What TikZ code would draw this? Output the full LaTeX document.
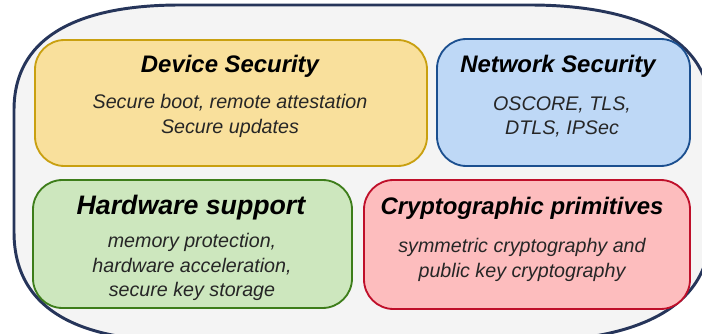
\documentclass[tikz,border=0pt]{standalone}
\usepackage{fontspec}
\setmainfont{Liberation Sans}
\usepackage{tikz}
\usetikzlibrary{positioning}

\definecolor{outerline}{HTML}{26355A}
\definecolor{outerfill}{HTML}{F4F4F4}
\definecolor{devline}{HTML}{C9A010}
\definecolor{devfill}{HTML}{F9E09C}
\definecolor{netline}{HTML}{1B4F8F}
\definecolor{netfill}{HTML}{BED8F6}
\definecolor{hwline}{HTML}{3D7D1A}
\definecolor{hwfill}{HTML}{CDE7BE}
\definecolor{cryline}{HTML}{BF0F2A}
\definecolor{cryfill}{HTML}{FDBDBE}

\tikzset{
  area/.style={draw, line width=1.3pt, rounded corners=21pt, inner sep=0pt},
  heading/.style={inner sep=0pt, font=\fontsize{17}{20}\selectfont\bfseries\itshape},
  detail/.style={inner sep=0pt, align=center, text=black!85,
    font=\fontsize{14}{17.3}\selectfont\itshape},
}

\begin{document}
\begin{tikzpicture}[x=0.025cm, y=-0.025cm]
\useasboundingbox (0,0) rectangle (702,334);
% outer frame
\begin{scope}
\clip (0,0) rectangle (702,334);
\draw[line width=2.1pt, draw=outerline, fill=outerfill]
  (14,110) .. controls (14,30) and (90,5) .. (180,5)
  -- (530,5) .. controls (620,5) and (710,30) .. (710,110)
  -- (710,232) .. controls (710,316) and (620,341) .. (530,341)
  -- (180,341) .. controls (90,341) and (14,316) .. (14,232) -- cycle;
\end{scope}

% boxes
\node[area, draw=devline, fill=devfill, minimum width=392*0.025cm, minimum height=126*0.025cm] (dev) at (231,103) {};
\node[area, draw=netline, fill=netfill, minimum width=253*0.025cm, minimum height=127*0.025cm] (net) at (563.5,102.5) {};
\node[area, draw=hwline, fill=hwfill, minimum width=319*0.025cm, minimum height=128*0.025cm] (hw) at (192.5,244) {};
\node[area, draw=cryline, fill=cryfill, minimum width=326*0.025cm, minimum height=129*0.025cm] (cry) at (527,244.5) {};

% texts
\node[heading] (devtitle) at (230,66) {Device Security};
\node[detail] (devtext) at (230,116) {Secure boot, remote attestation\\Secure updates};
\node[heading] (nettitle) at (558,66) {Network Security};
\node[detail] (nettext) at (562,117) {OSCORE, TLS,\\DTLS, IPSec};
\node[heading, font=\fontsize{19}{22}\selectfont\bfseries\itshape] (hwtitle) at (191,208) {Hardware support};
\node[detail] (hwtext) at (192,267) {memory protection,\\hardware acceleration,\\secure key storage};
\node[heading] (crytitle) at (522,208) {Cryptographic primitives};
\node[detail] (crytext) at (522,260) {symmetric cryptography and\\public key cryptography};
\end{tikzpicture}
\end{document}
